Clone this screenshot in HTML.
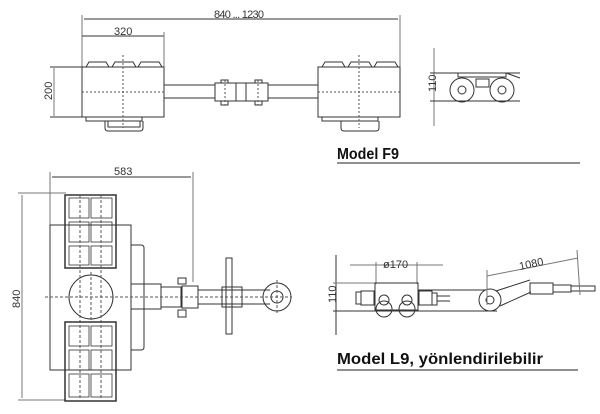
<!DOCTYPE html>
<html><head><style>body{margin:0;background:#fff}svg{display:block}</style></head><body>
<svg width="600" height="414" viewBox="0 0 600 414" xmlns="http://www.w3.org/2000/svg" font-family="Liberation Sans, sans-serif">
<g fill="none" stroke="#333" stroke-width="1">
<line x1="82" y1="15" x2="82" y2="117" stroke="#777"/>
<line x1="400" y1="15" x2="400" y2="67" stroke="#777"/>
<line x1="84" y1="19" x2="398" y2="19"/>
<line x1="82" y1="36" x2="164" y2="36"/>
<line x1="164" y1="32" x2="164" y2="67" stroke="#777"/>
<line x1="50" y1="67" x2="82" y2="67"/><line x1="50" y1="117" x2="82" y2="117"/>
<line x1="54" y1="68" x2="54" y2="116" stroke="#777"/>
<rect x="82" y="67" width="82" height="50"/>
<rect x="318" y="67" width="82" height="50"/>
<path d="M86 67 l3-5 h17 l3 5 M112 67 l3-5 h18 l3 5 M138 67 l3-5 h18 l3 5"/>
<path d="M322 67 l3-5 h17 l3 5 M348 67 l3-5 h18 l3 5 M374 67 l3-5 h18 l3 5"/>
<path d="M86 117 v4 h56 v-4 M322 117 v4 h56 v-4"/>
<path d="M105 121 v7 q0 3 3 3 h32 q3 0 3-3 v-7 M108 121 v6 h32 v-6"/>
<path d="M341 121 v7 q0 3 3 3 h32 q3 0 3-3 v-7"/>
<line x1="164" y1="85" x2="318" y2="85"/><line x1="164" y1="98" x2="318" y2="98"/>
<rect x="215" y="83" width="53" height="18" fill="#fff"/>
<line x1="236" y1="83" x2="236" y2="101"/><line x1="246" y1="83" x2="246" y2="101"/>
<rect x="221" y="80" width="7" height="3"/><rect x="255" y="80" width="7" height="3"/>
<rect x="221" y="101" width="7" height="4"/><rect x="255" y="101" width="7" height="4"/>
<g stroke-dasharray="2 2" stroke="#555"><line x1="82" y1="92" x2="166" y2="92"/><line x1="318" y1="92" x2="402" y2="92"/><line x1="123" y1="55" x2="123" y2="128"/><line x1="359" y1="55" x2="359" y2="128"/><line x1="225" y1="80" x2="225" y2="105"/><line x1="258" y1="80" x2="258" y2="105"/></g>
<line x1="434" y1="48" x2="434" y2="126" stroke="#777"/>
<line x1="430" y1="73" x2="520" y2="73"/><line x1="430" y1="101" x2="520" y2="101"/>
<path d="M456 73 h50 l14 5 M458 73 v4 h48 v-4"/>
<rect x="476" y="79" width="13" height="8"/>
<circle cx="462" cy="90" r="12"/><circle cx="462" cy="90" r="4"/>
<circle cx="502" cy="90" r="12"/><circle cx="502" cy="90" r="4"/>
<line x1="50" y1="172" x2="50" y2="225" stroke="#777"/>
<line x1="193" y1="172" x2="193" y2="282" stroke="#777"/>
<line x1="52" y1="177" x2="191" y2="177"/>
<line x1="18" y1="193" x2="66" y2="193" stroke="#777"/><line x1="18" y1="400" x2="66" y2="400" stroke="#777"/>
<line x1="22" y1="195" x2="22" y2="398" stroke="#777"/>
<rect x="50" y="225" width="81" height="145"/>
<rect x="65" y="195" width="51" height="73" stroke-width="1.5"/>
<rect x="65" y="322" width="51" height="79" stroke-width="1.5"/>
<g stroke-width="0.8">
<rect x="69" y="198" width="20" height="20"/><rect x="91" y="198" width="21" height="20"/>
<rect x="69" y="222" width="20" height="20"/><rect x="91" y="222" width="21" height="20"/>
<rect x="69" y="246" width="20" height="19"/><rect x="91" y="246" width="21" height="19"/>
<rect x="69" y="326" width="20" height="20"/><rect x="91" y="326" width="21" height="20"/>
<rect x="69" y="350" width="20" height="20"/><rect x="91" y="350" width="21" height="20"/>
<rect x="69" y="374" width="20" height="23"/><rect x="91" y="374" width="21" height="23"/>
</g>
<circle cx="91" cy="297" r="22"/>
<rect x="131" y="284" width="30" height="25"/>
<path d="M131 245 h10 q3 0 3 3 v99 q0 3-3 3 h-10"/>
<rect x="161" y="287" width="20" height="20"/>
<rect x="178" y="278" width="8" height="6"/><rect x="178" y="310" width="8" height="7"/>
<rect x="182" y="286" width="16" height="22"/>
<line x1="198" y1="290" x2="270" y2="290"/><line x1="198" y1="304" x2="270" y2="304"/>
<rect x="226" y="258" width="6" height="76"/>
<rect x="222" y="287" width="20" height="20"/>
<circle cx="277" cy="297" r="14"/><circle cx="277" cy="297" r="6"/>
<g stroke-dasharray="3 2" stroke="#555"><line x1="45" y1="297" x2="292" y2="297"/><line x1="80" y1="195" x2="80" y2="400"/><line x1="101" y1="195" x2="101" y2="400"/><line x1="91" y1="272" x2="91" y2="322"/><line x1="277" y1="280" x2="277" y2="314"/></g>
<line x1="336" y1="255" x2="336" y2="335"/>
<line x1="333" y1="283" x2="378" y2="283" stroke="#777"/><line x1="333" y1="311" x2="497" y2="311"/>
<line x1="350" y1="265" x2="443" y2="265" stroke="#777"/>
<line x1="376" y1="262" x2="376" y2="284" stroke="#777"/><line x1="417" y1="262" x2="417" y2="284" stroke="#777"/>
<rect x="375" y="283" width="43" height="27"/>
<circle cx="384" cy="300" r="5"/><circle cx="407" cy="300" r="5"/>
<circle cx="384" cy="309" r="8"/><circle cx="407" cy="309" r="8"/>
<rect x="356" y="292" width="5" height="12"/><rect x="361" y="291" width="13" height="14"/>
<rect x="419" y="291" width="13" height="14"/><rect x="432" y="293" width="5" height="12"/>
<line x1="437" y1="296" x2="450" y2="296"/><line x1="437" y1="301" x2="450" y2="301"/>
<line x1="418" y1="290" x2="490" y2="290"/>
<circle cx="490" cy="300" r="11" fill="#fff"/><circle cx="490" cy="300" r="4"/>
<path d="M496 291 L530 280 M500 306 L531 292"/>
<rect x="530" y="283" width="23" height="11"/>
<rect x="553" y="285" width="18" height="7"/><rect x="571" y="286" width="24" height="5"/>
<line x1="487" y1="270" x2="487" y2="305" stroke="#777"/>
<line x1="577" y1="250" x2="580" y2="295" stroke="#777"/>
<line x1="487" y1="276" x2="578" y2="258" stroke="#777"/>
<line x1="337" y1="163" x2="580" y2="163" stroke="#222"/>
<line x1="337" y1="370" x2="578" y2="370" stroke="#222"/>
</g>
<g fill="#333" font-size="11">
<text x="214" y="18" textLength="50">840 ... 1230</text>
<text x="114" y="35">320</text>
<text x="114" y="175">583</text>
<text x="383" y="268">ø170</text>
<text transform="translate(52,100) rotate(-90)">200</text>
<text transform="translate(436,92) rotate(-90)">110</text>
<text transform="translate(20,308) rotate(-90)">840</text>
<text transform="translate(336,303) rotate(-90)">110</text>
<text transform="translate(520,270) rotate(-12)">1080</text>
</g>
<g fill="#111" font-weight="bold" font-size="16">
<text x="337" y="159" textLength="62" lengthAdjust="spacingAndGlyphs">Model F9</text>
<text x="337" y="364" textLength="206" lengthAdjust="spacingAndGlyphs">Model L9, yönlendirilebilir</text>
</g>
</svg>
</body></html>
